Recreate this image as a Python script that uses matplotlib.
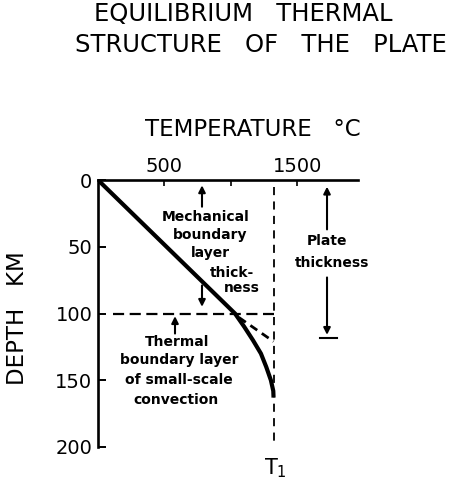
import matplotlib
matplotlib.use('Agg')
import matplotlib.pyplot as plt

# values (temperature in degC, depth in km)
temp_ticks = [500, 1000, 1500]
temp_labels = ['500', '', '1500']
depth_ticks = [0, 50, 100, 150, 200]
depth_labels = ['0', '50', '100', '150', '200']

geotherm_depth = [0, 100, 110, 120, 130, 140, 150, 158, 163]
geotherm_temp = [0, 1030, 1100, 1165, 1225, 1265, 1300, 1318, 1320]

extension_depth = [103, 121]
extension_temp = [1060, 1320]

T1 = 1320
mech_depth = 100
plate_depth = 118

W, H = 449, 479
fig = plt.figure(figsize=(W / 100, H / 100), dpi=100)
ax = fig.add_axes([98 / W, 1 - 447 / H, 260 / W, 267 / H])
ax.set_xlim(0, 1955)
ax.set_ylim(200, 0)

for s in ['right', 'bottom']:
    ax.spines[s].set_visible(False)
for s in ['top', 'left']:
    ax.spines[s].set_linewidth(1.9)

ax.xaxis.tick_top()
ax.set_xticks(temp_ticks)
ax.set_xticklabels(temp_labels)
ax.tick_params(axis='x', direction='in', length=4, width=1.2, pad=3, labelsize=14)
ax.set_yticks(depth_ticks)
ax.set_yticklabels(depth_labels)
ax.tick_params(axis='y', direction='in', length=6, width=1.4, pad=4, labelsize=14)

# geotherm
ax.plot(geotherm_temp, geotherm_depth, color='black', lw=3, solid_capstyle='butt')
ax.plot(extension_temp, extension_depth, color='black', lw=2, dashes=(3, 2))

# T1 adiabat and mechanical boundary layer base
ax.plot([T1, T1], [5, 200], color='black', lw=1.3, dashes=(4.5, 3.5))
ax.plot([113, T1], [mech_depth, mech_depth], color='black', lw=1.6, dashes=(5, 2.5))
ax.text(T1 + 15, 207, r'$\mathregular{T_1}$', fontsize=15, ha='center', va='top')

arr = dict(arrowstyle='-|>', color='black', lw=1.5, mutation_scale=10, shrinkA=0, shrinkB=0)

# mechanical boundary layer
ax.annotate('', xy=(782, 4), xytext=(782, 20), arrowprops=arr)
ax.annotate('', xy=(782, 95), xytext=(782, 79), arrowprops=arr)
tkw = dict(fontsize=10, fontweight='bold', ha='center', va='center')
ax.text(812, 28, 'Mechanical', **tkw)
ax.text(842, 41, 'boundary', **tkw)
ax.text(842, 55, 'layer', **tkw)
ax.text(1007, 70, 'thick-', **tkw)
ax.text(1082, 81, 'ness', **tkw)

# plate thickness
ax.annotate('', xy=(1722, 5), xytext=(1722, 37), arrowprops=arr)
ax.annotate('', xy=(1722, plate_depth - 2), xytext=(1722, 73), arrowprops=arr)
ax.plot([1670, 1797], [plate_depth, plate_depth], color='black', lw=1.5)
ax.text(1722, 46, 'Plate', **tkw)
ax.text(1760, 62, 'thickness', **tkw)

# thermal boundary layer
ax.annotate('', xy=(579, 102), xytext=(579, 115), arrowprops=arr)
ax.text(594, 121, 'Thermal', **tkw)
ax.text(610, 135, 'boundary layer', **tkw)
ax.text(610, 150, 'of small-scale', **tkw)
ax.text(587, 165, 'convection', **tkw)

# axis titles
fig.text(253 / W, 1 - 129 / H, 'TEMPERATURE   \u00b0C', fontsize=16.5, ha='center', va='center')
fig.text(18 / W, 1 - 318 / H, 'DEPTH   KM', fontsize=16.5, rotation=90, ha='center', va='center')

# title
fig.text(243 / W, 1 - 14 / H, 'EQUILIBRIUM   THERMAL', fontsize=17.5, ha='center', va='center')
fig.text(261 / W, 1 - 45 / H, 'STRUCTURE   OF   THE   PLATE', fontsize=17.5, ha='center', va='center')

fig.savefig('out.png', dpi=100)
